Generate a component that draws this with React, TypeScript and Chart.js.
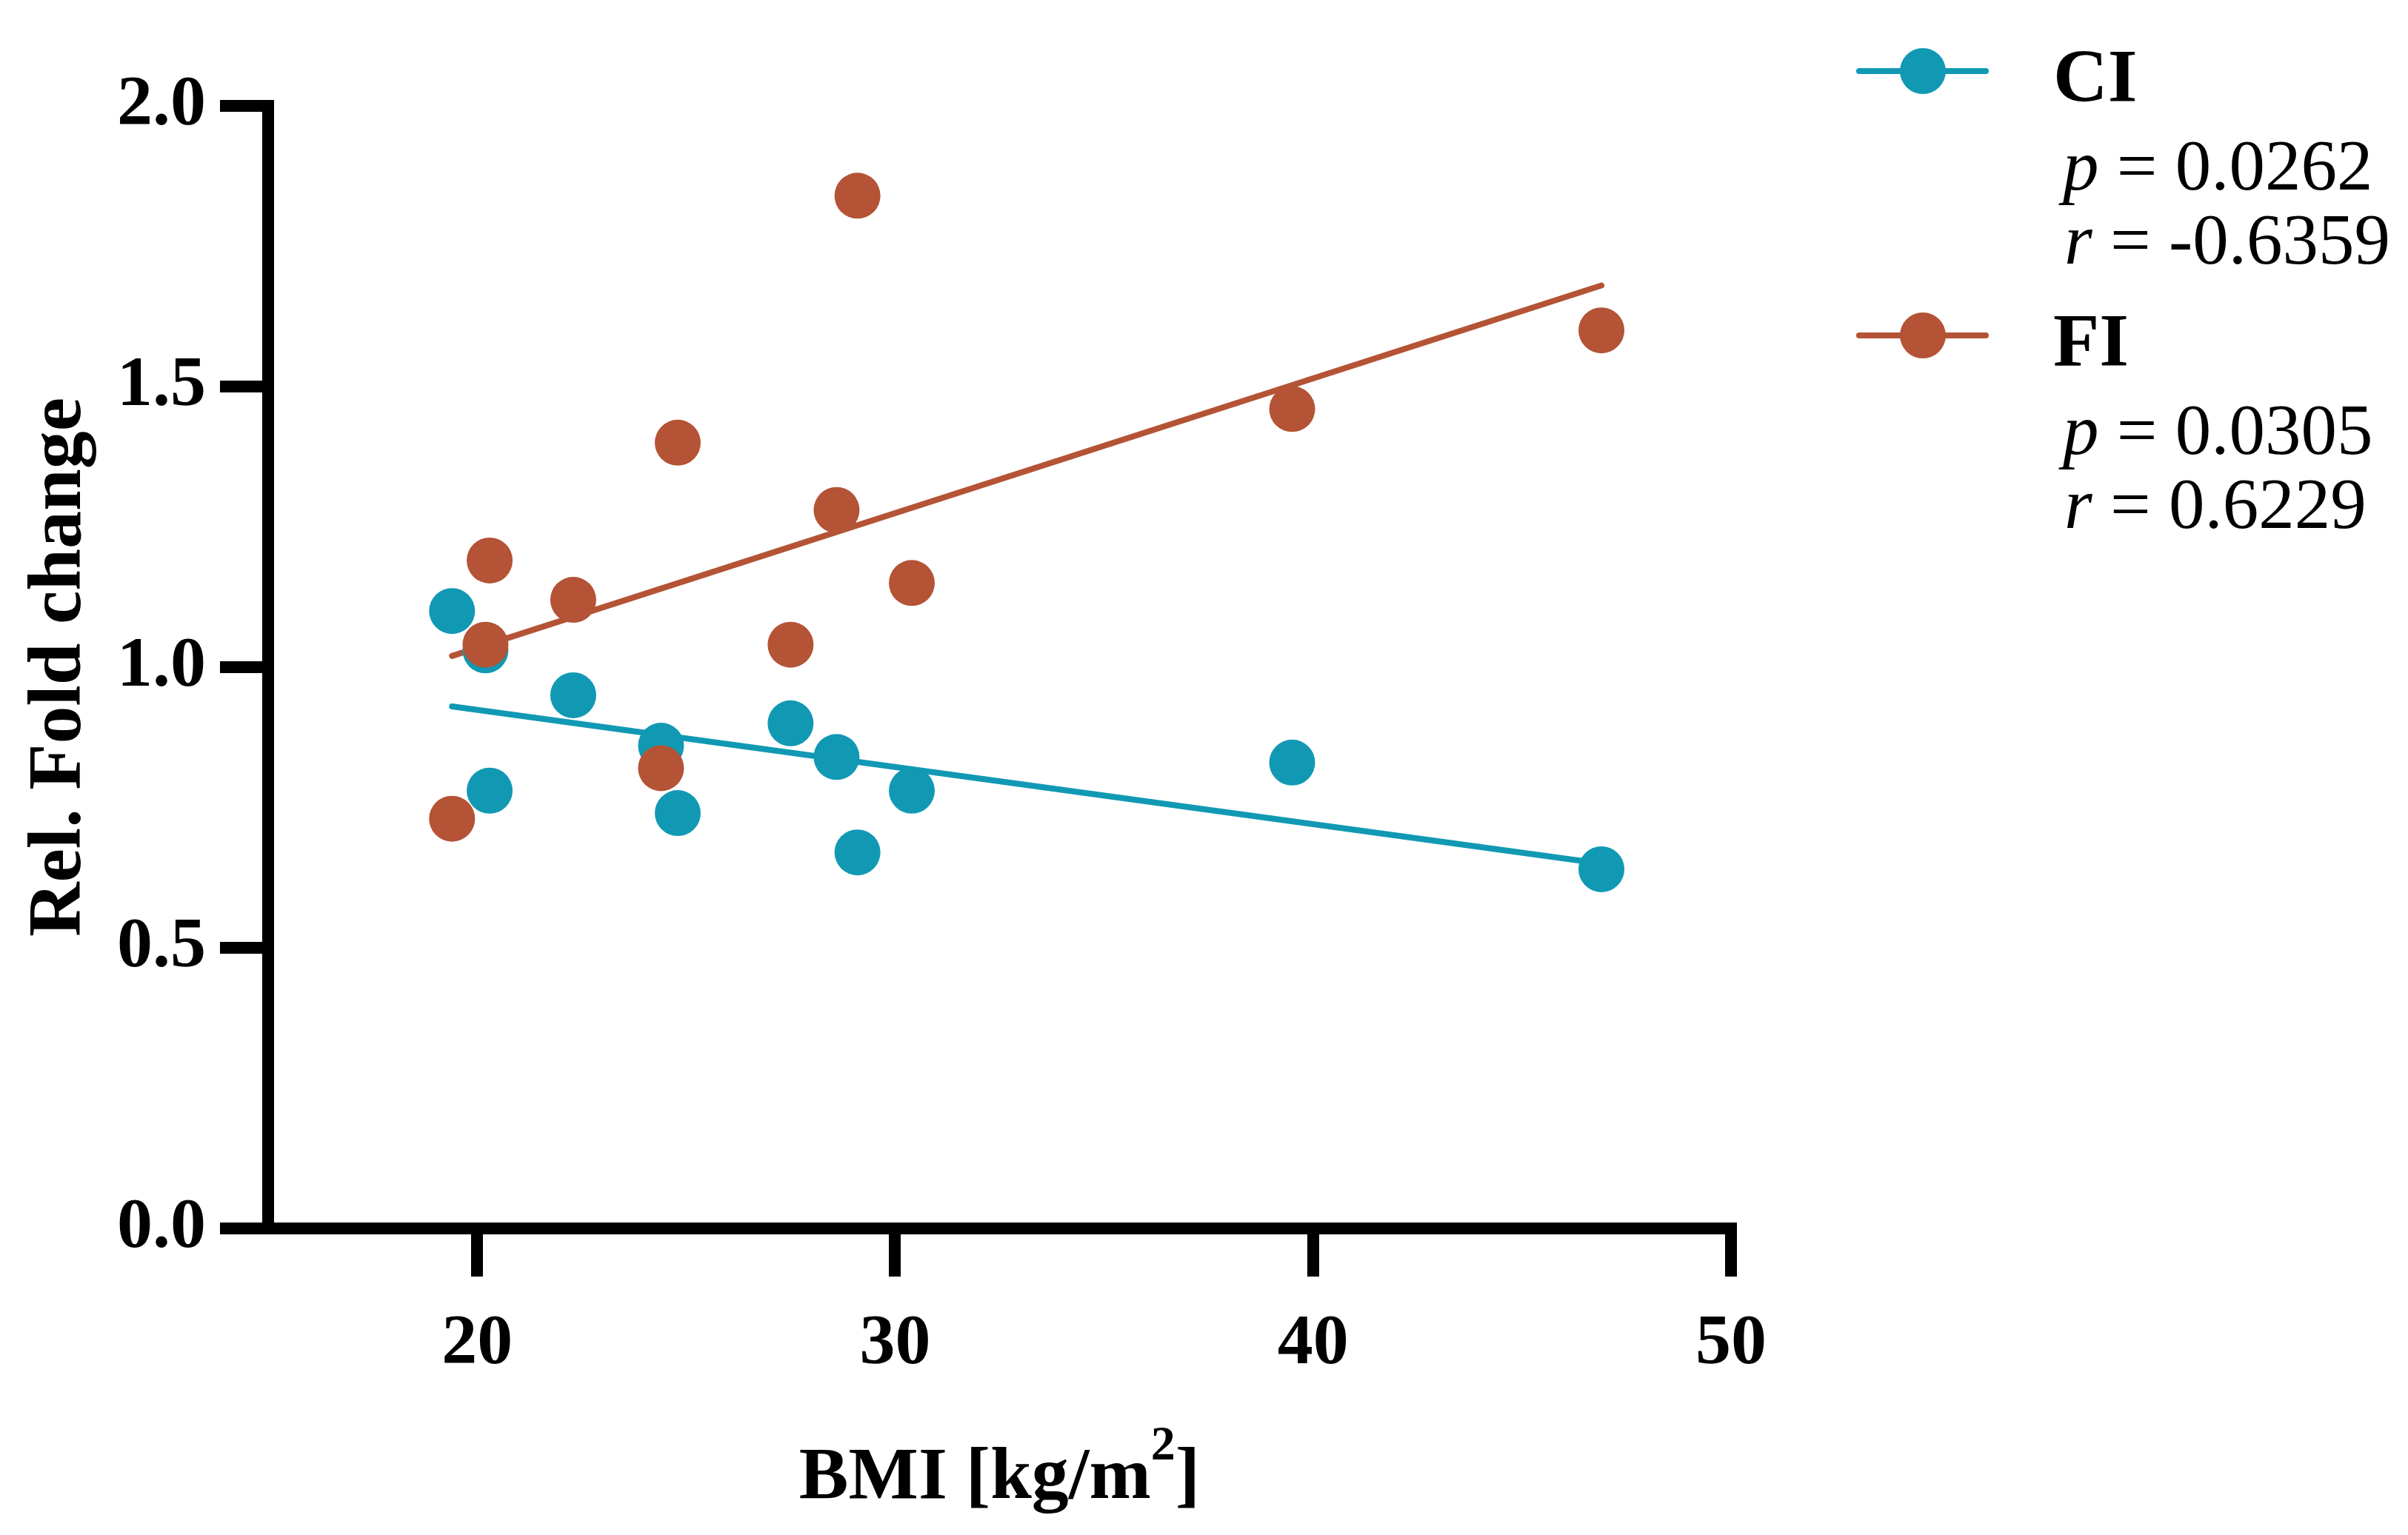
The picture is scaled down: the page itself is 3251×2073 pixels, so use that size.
import { useEffect, useRef } from "react";
import { Chart, registerables, type Plugin } from "chart.js";

Chart.register(...registerables);

// BMI per subject and relative fold change
const ciBmi = [19.4, 20.2, 20.3, 22.3, 24.4, 24.8, 27.5, 28.6, 29.1, 30.4, 39.5, 46.9];
const ciFold = [1.1, 1.03, 0.78, 0.95, 0.86, 0.74, 0.9, 0.84, 0.67, 0.78, 0.83, 0.64];
const fiBmi = [19.4, 20.2, 20.3, 22.3, 24.4, 24.8, 27.5, 28.6, 29.1, 30.4, 39.5, 46.9];
const fiFold = [0.73, 1.04, 1.19, 1.12, 0.82, 1.4, 1.04, 1.28, 1.84, 1.15, 1.46, 1.6];

// regression line end points
const fitBmi = [19.4, 46.9];
const ciFit = [0.93, 0.65];
const fiFit = [1.02, 1.68];

const xTicks = [20, 30, 40, 50];
const yTicks = [0, 0.5, 1.0, 1.5, 2.0];

const groups = ["CI", "FI"];
const groupColors = ["#1199B4", "#B45335"];
const pValues = ["0.0262", "0.0305"];
const rValues = ["-0.6359", "0.6229"];

const W = 3251;
const H = 2073;
const FONT = "'Liberation Serif', 'Times New Roman', serif";

const pts = (xs: number[], ys: number[]) => xs.map((x, i) => ({ x, y: ys[i] }));

function drawStat(ctx: CanvasRenderingContext2D, sym: string, rest: string, x: number, y: number) {
  ctx.font = `italic 97px ${FONT}`;
  ctx.fillText(sym, x, y);
  const w = ctx.measureText(sym).width;
  ctx.font = `97px ${FONT}`;
  ctx.fillText(rest, x + w, y);
}

// legend with p / r values, plus the x title with a real superscript
const statsLegend: Plugin = {
  id: "statsLegend",
  afterDraw(chart) {
    const ctx = chart.ctx;
    ctx.save();
    ctx.textAlign = "left";
    ctx.textBaseline = "alphabetic";
    groups.forEach((name, i) => {
      const cy = 96 + i * 357;
      ctx.strokeStyle = groupColors[i];
      ctx.lineWidth = 8;
      ctx.lineCap = "round";
      ctx.beginPath();
      ctx.moveTo(2510, cy);
      ctx.lineTo(2681, cy);
      ctx.stroke();
      ctx.fillStyle = groupColors[i];
      ctx.beginPath();
      ctx.arc(2596, cy, 31, 0, Math.PI * 2);
      ctx.fill();
      ctx.fillStyle = "#000";
      ctx.font = `bold 102px ${FONT}`;
      ctx.fillText(name, 2772, cy + 41);
      drawStat(ctx, "p", " = " + pValues[i], 2785, cy + 160);
      drawStat(ctx, "r", " = " + rValues[i], 2787, cy + 260);
    });

    // x axis title: BMI [kg/m²]
    const { left, right } = chart.chartArea;
    const parts: [string, number, number][] = [
      ["BMI [kg/m", 100, 0],
      ["2", 66, -52],
      ["]", 100, 0],
    ];
    let total = 0;
    parts.forEach(([t, s]) => {
      ctx.font = `bold ${s}px ${FONT}`;
      total += ctx.measureText(t).width;
    });
    let x = (left + right) / 2 - total / 2;
    const baseline = 2023;
    ctx.fillStyle = "#000";
    parts.forEach(([t, s, dy]) => {
      ctx.font = `bold ${s}px ${FONT}`;
      ctx.fillText(t, x, baseline + dy);
      x += ctx.measureText(t).width;
    });
    ctx.restore();
  },
};

export default function App() {
  const canvasRef = useRef<HTMLCanvasElement | null>(null);
  const chartRef = useRef<Chart | null>(null);

  useEffect(() => {
    if (!canvasRef.current) return;
    if (chartRef.current) chartRef.current.destroy();
    document.body.style.margin = "0";
    document.body.style.background = "#fff";

    const tickFont = { family: FONT, size: 96, weight: "bold" as const };

    chartRef.current = new Chart(canvasRef.current, {
      type: "scatter",
      data: {
        datasets: [
          {
            label: "CI",
            data: pts(ciBmi, ciFold),
            backgroundColor: groupColors[0],
            borderColor: groupColors[0],
            pointRadius: 31,
            pointBorderWidth: 0,
            order: 2,
          },
          {
            label: "FI",
            data: pts(fiBmi, fiFold),
            backgroundColor: groupColors[1],
            borderColor: groupColors[1],
            pointRadius: 31,
            pointBorderWidth: 0,
            order: 1,
          },
          {
            type: "line",
            label: "CI fit",
            data: pts(fitBmi, ciFit),
            borderColor: groupColors[0],
            borderWidth: 8,
            borderCapStyle: "round",
            pointRadius: 0,
            fill: false,
            order: 4,
          },
          {
            type: "line",
            label: "FI fit",
            data: pts(fitBmi, fiFit),
            borderColor: groupColors[1],
            borderWidth: 8,
            borderCapStyle: "round",
            pointRadius: 0,
            fill: false,
            order: 3,
          },
        ],
      },
      options: {
        responsive: false,
        animation: false,
        devicePixelRatio: 1,
        layout: { padding: { left: 0, top: 143, right: W - 2337, bottom: 0 } },
        plugins: {
          legend: { display: false },
          tooltip: { enabled: false },
        },
        scales: {
          x: {
            type: "linear",
            min: 15,
            max: 50,
            afterBuildTicks: (s) => {
              s.ticks = xTicks.map((value) => ({ value }));
            },
            afterFit: (s) => {
              s.height = H - 1659;
            },
            border: { display: true, width: 16, color: "#000" },
            grid: {
              drawOnChartArea: false,
              drawTicks: true,
              tickLength: 65,
              lineWidth: 16,
              color: "#000",
            },
            ticks: { font: tickFont, color: "#000", padding: 35, maxRotation: 0 },
            title: { display: false },
          },
          y: {
            type: "linear",
            min: 0,
            max: 2,
            afterBuildTicks: (s) => {
              s.ticks = yTicks.map((value) => ({ value }));
            },
            afterFit: (s) => {
              s.width = 362;
            },
            border: { display: true, width: 16, color: "#000" },
            grid: {
              drawOnChartArea: false,
              drawTicks: true,
              tickLength: 65,
              lineWidth: 16,
              color: "#000",
            },
            ticks: {
              font: tickFont,
              color: "#000",
              padding: 19,
              callback: (v) => Number(v).toFixed(1),
            },
            title: {
              display: true,
              text: "Rel. Fold change",
              font: { family: FONT, size: 102, weight: "bold" },
              color: "#000",
              padding: { top: 20, bottom: 20 },
            },
          },
        },
      },
      plugins: [statsLegend],
    });

    return () => chartRef.current?.destroy();
  }, []);

  return (
    <div style={{ position: "fixed", left: 0, top: 0, width: W, height: H, background: "#fff" }}>
      <canvas ref={canvasRef} width={W} height={H} style={{ display: "block", width: W, height: H }} />
    </div>
  );
}
